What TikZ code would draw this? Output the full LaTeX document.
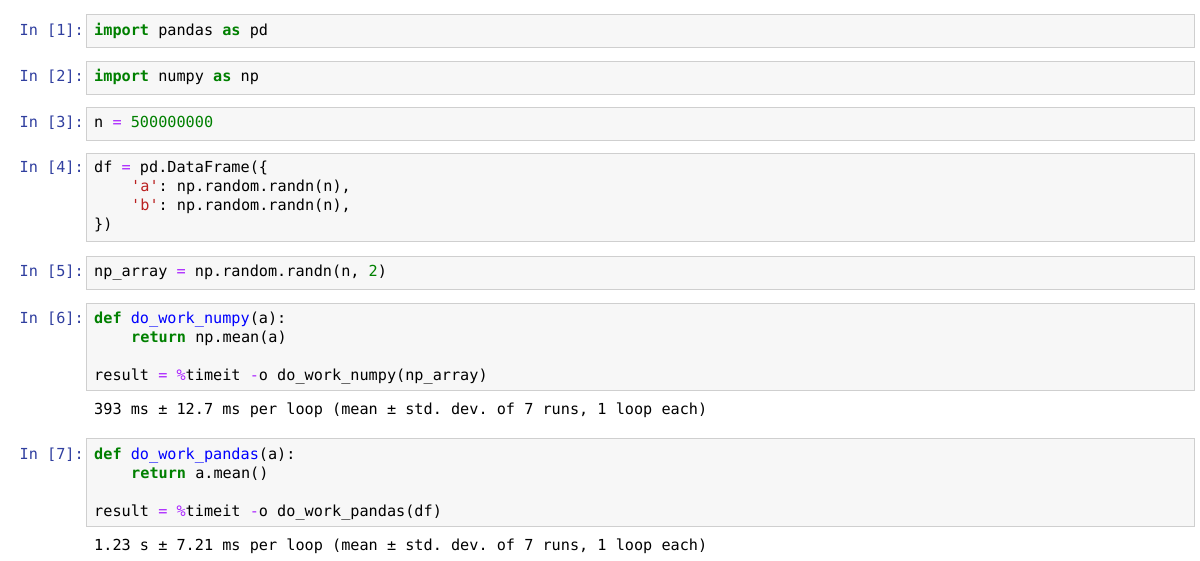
\documentclass[tikz,border=0pt]{standalone}
\usepackage{fontspec}
\setmonofont{DejaVu Sans Mono}
\definecolor{kw}{HTML}{008000}
\definecolor{op}{HTML}{AA22FF}
\definecolor{st}{HTML}{BA2121}
\definecolor{fn}{HTML}{0000FF}
\definecolor{pr}{HTML}{303F9F}
\definecolor{cellbg}{HTML}{F7F7F7}
\definecolor{cellbd}{HTML}{CFCFCF}
\newcommand{\K}[1]{\textcolor{kw}{\textbf{#1}}}
\newcommand{\N}[1]{\textcolor{kw}{#1}}
\newcommand{\Op}[1]{\textcolor{op}{#1}}
\newcommand{\Sx}[1]{\textcolor{st}{#1}}
\newcommand{\F}[1]{\textcolor{fn}{#1}}
\begin{document}
\begin{tikzpicture}[x=1pt,y=-1pt,
  every node/.style={font=\ttfamily\fontsize{15.2}{19}\selectfont,inner sep=0pt},
  cell/.style={draw=cellbd,fill=cellbg,line width=0.8pt},
  prompt/.style={anchor=base east,text=pr},
  code/.style={anchor=base west}]
\useasboundingbox (0,0) rectangle (1200,561);
\draw[cell] (86,14) rectangle (1194,47);
\draw[cell] (86,61) rectangle (1194,94);
\draw[cell] (86,107) rectangle (1194,140);
\draw[cell] (86,153) rectangle (1194,241);
\draw[cell] (86,256) rectangle (1194,289);
\draw[cell] (86,303) rectangle (1194,390);
\draw[cell] (86,438) rectangle (1194,526);
\node[prompt] (p1) at (84,36) {In [1]:};
\node[prompt] (p2) at (84,82) {In [2]:};
\node[prompt] (p3) at (84,128) {In [3]:};
\node[prompt] (p4) at (84,173) {In [4]:};
\node[prompt] (p5) at (84,277) {In [5]:};
\node[prompt] (p6) at (84,324) {In [6]:};
\node[prompt] (p7) at (84,459) {In [7]:};
\node[code] (c1) at (94,36) {\K{import} pandas \K{as} pd};
\node[code] (c2) at (94,82) {\K{import} numpy \K{as} np};
\node[code] (c3) at (94,128) {n \Op{=} \N{500000000}};
\node[code] (c4a) at (94,173) {df \Op{=} pd.DataFrame(\{};
\node[code] (c4b) at (131,192) {\Sx{'a'}: np.random.randn(n),};
\node[code] (c4c) at (131,211) {\Sx{'b'}: np.random.randn(n),};
\node[code] (c4d) at (94,230) {\})};
\node[code] (c5) at (94,277) {np\_array \Op{=} np.random.randn(n, \N{2})};
\node[code] (c6a) at (94,324) {\K{def} \F{do\_work\_numpy}(a):};
\node[code] (c6b) at (131,343) {\K{return} np.mean(a)};
\node[code] (c6c) at (94,381) {result \Op{=} \Op{\%}timeit \Op{-}o do\_work\_numpy(np\_array)};
\node[code] (o6) at (94,414) {393 ms ± 12.7 ms per loop (mean ± std. dev. of 7 runs, 1 loop each)};
\node[code] (c7a) at (94,459) {\K{def} \F{do\_work\_pandas}(a):};
\node[code] (c7b) at (131,478) {\K{return} a.mean()};
\node[code] (c7c) at (94,516) {result \Op{=} \Op{\%}timeit \Op{-}o do\_work\_pandas(df)};
\node[code] (o7) at (94,550) {1.23 s ± 7.21 ms per loop (mean ± std. dev. of 7 runs, 1 loop each)};
\end{tikzpicture}
\end{document}
